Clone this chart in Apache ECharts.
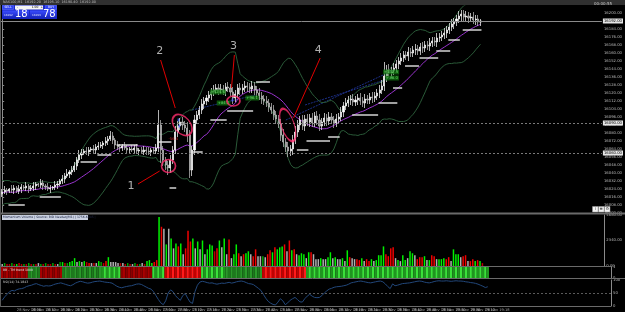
<!DOCTYPE html>
<html><head><meta charset="utf-8">
<script src="https://cdn.jsdelivr.net/npm/echarts/dist/echarts.min.js"></script>
<style>html,body{margin:0;padding:0;background:#000;}#c{width:625px;height:312px;}</style>
</head><body><div id="c"></div>
<script>
// ---------- DATA ----------
const priorCloses = [16012,16018,16025,16030,16022,16015,16010,16017,16024,16028,16021,16014,16019,16026,16023,16017,16020,16025,16019];
const firstOpen = 16019;
const closes = [
16021,16023,16022,16024,16023,16025,16022,16024,16026,16025,
16027,16024,16025,16027,16029,16028,16030,16027,16026,16024,
16025,16026,16028,16029,16032,16034,16037,16039,16041,16043,
16047,16053,16058,16060,16062,16061,16063,16064,16063,16066,
16067,16068,16070,16072,16074,16077,16073,16068,16066,16065,
16067,16065,16063,16064,16063,16065,16062,16063,16061,16063,
16062,16061,16063,16062,16065,16088,16063,16053,16048,16045,
16053,16063,16081,16087,16091,16088,16085,16078,16043,16063,
16093,16098,16103,16109,16112,16115,16118,16121,16123,16125,
16123,16124,16122,16126,16125,16121,16115,16119,16125,16123,
16125,16127,16126,16124,16127,16123,16120,16117,16114,16112,
16110,16106,16103,16098,16094,16089,16078,16071,16066,16062,
16064,16073,16081,16088,16093,16087,16094,16091,16095,16090,
16097,16093,16087,16091,16095,16092,16096,16093,16090,16094,
16096,16101,16107,16110,16113,16114,16111,16113,16115,16112,
16110,16114,16113,16116,16115,16117,16120,16123,16127,16137,
16143,16140,16142,16145,16149,16152,16155,16158,16157,16161,
16160,16163,16164,16162,16166,16165,16168,16167,16170,16172,
16171,16175,16176,16178,16180,16183,16186,16189,16191,16194,
16197,16199,16196,16197,16195,16196,16193,16194,16191,16192];
const wickUp = [
3,4,2,1,4,3,2,4,3,2, 4,2,3,4,2,1,4,3,2,4, 3,1,4,3,2,4,3,5,2,4, 4,3,5,4,2,4,3,2,4,3,
4,3,2,4,3,5,4,2,4,3, 2,4,3,2,4,3,4,2,3,4, 3,4,2,3,4,15,5,4,3,4, 5,4,6,5,4,5,4,6,5,4,
5,4,4,5,4,3,4,4,5,4, 4,5,4,4,5,4,5,4,4,5, 4,5,4,4,5,4,4,5,4,4, 5,4,4,5,4,4,5,6,4,5,
4,5,6,5,4,5,4,5,4,5, 4,5,6,4,5,4,5,4,4,5, 4,5,4,5,4,4,5,4,4,5, 4,5,4,4,5,4,4,5,6,14,
5,6,4,5,4,4,5,4,4,5, 4,4,5,4,4,5,4,4,5,4, 4,5,4,4,5,4,4,5,4,4, 5,4,4,5,4,4,5,4,4,2];
const wickDn = [
3,2,4,2,3,4,2,3,4,2, 3,4,2,3,4,2,3,4,3,2, 4,2,3,4,2,3,4,2,4,3, 2,4,3,4,2,3,4,2,3,4,
3,2,4,3,4,2,4,4,3,4, 3,2,4,3,2,4,3,4,2,3, 4,3,4,2,3,4,13,6,5,7, 5,4,4,5,4,5,4,7,8,6,
5,4,4,4,5,4,4,5,4,4, 5,4,4,5,4,4,6,4,4,5, 4,4,5,4,4,5,4,4,5,4, 4,5,4,5,5,4,6,5,5,6,
5,6,4,5,5,4,5,4,5,4, 4,5,5,4,4,5,4,4,5,4, 4,4,5,4,4,5,4,4,5,4, 4,5,4,4,5,4,4,5,4,5,
6,4,5,4,4,5,4,4,4,5, 4,4,5,4,4,5,4,4,5,4, 4,5,4,4,4,5,4,4,5,4, 4,5,4,4,5,4,4,5,4,4];
const volumes = [
2,3,2,2,3,2,2,3,2,2, 2,3,2,2,2,3,2,2,3,2, 2,3,2,2,4,4,3,3,4,5, 8,4,5,4,5,4,3,3,3,3,
5,4,3,5,9,4,4,4,3,3, 3,2,3,2,2,3,2,2,3,2, 5,6,3,4,6,50,40,38,22,38, 28,18,23,20,23,12,18,36,25,28,
18,25,17,26,12,17,22,21,15,18, 26,19,28,12,27,8,12,22,13,10, 12,13,15,12,10,17,10,10,10,9, 12,16,14,19,17,19,20,22,15,26,
16,17,12,11,13,12,8,14,14,12, 7,7,8,7,7,9,14,8,9,7, 7,8,5,16,9,8,7,7,6,8, 5,7,5,7,5,6,11,11,20,12,
10,18,19,8,6,5,11,6,8,15, 13,11,7,9,9,10,6,6,11,10, 7,7,7,8,7,9,5,17,12,12, 9,10,11,5,5,7,5,6,5,3];
const volClass = [
'n','g','r','r','g','r','G','r','r','g', 'r','g','r','g','r','n','g','r','g','r',
'r','g','r','n','g','G','r','g','G','G', 'G','n','G','n','G','r','R','n','r','n',
'G','g','r','R','G','n','n','n','n','r', 'n','r','g','r','n','g','r','g','n','r',
'G','G','G','R','R','G','R','n','G','n', 'G','n','G','R','G','n','R','R','R','G',
'n','G','n','G','n','G','G','G','r','R', 'G','n','G','n','R','n','G','G','R','n',
'R','G','G','n','R','R','n','n','g','n', 'R','R','G','R','G','G','G','R','n','R',
'G','R','n','G','G','G','n','G','R','n', 'n','n','G','n','n','G','G','n','G','n',
'n','G','n','G','R','n','n','R','R','G', 'n','R','R','G','n','G','G','G','G','R',
'R','R','R','n','G','n','G','G','n','G', 'G','n','R','R','R','G','n','G','R','R',
'n','G','G','G','R','R','n','G','G','G', 'n','R','R','n','R','R','G','R','G','r'];
const trendRuns = [[-1,11],[1,5],[-1,9],[1,16],[2,8],[-1,13],[2,5],[-2,15],[2,10],[1,15],[-2,18],[2,75]];
const oscValues = [
22,35,45,55,60,58,63,66,67,70, 75,78,80,84,86,82,79,76,78,77, 78,82,85,87,89,86,83,80,78,82, 88,92,95,93,90,88,89,92,94,95,
96,94,92,91,90,88,82,76,72,70, 73,75,77,78,81,84,85,83,78,73, 68,65,55,40,25,12,5,20,50,62, 55,40,30,22,40,48,30,15,10,55,
80,92,95,93,90,88,89,86,84,86, 88,87,89,91,88,90,93,95,96,94, 90,86,85,82,75,68,60,45,30,18, 11,6,4,15,28,20,5,12,22,28,
33,25,16,15,28,38,45,38,33,32, 33,40,50,58,65,68,72,74,75,76, 78,80,84,89,91,93,95,96,94,92, 90,89,91,93,95,96,93,85,75,67,
85,78,80,83,86,87,88,89,91,93, 95,96,95,92,90,89,91,94,96,97, 96,96,97,96,95,96,97,96,96,95, 93,92,90,89,87,84,80,76,71,74];
// support dashes: [fromBar, toBar, price]
const levels = [[3,9,16008],[16,24,16016],[33,39,16051],[40,45,16058],[48,56,16068],[65,70,16071],[70,72,16025],
[79,83,16061],[87,93,16093],[94,104,16102],[106,111,16131],[123,127,16063],[127,136,16072],[136,140,16076],
[146,156,16098],[157,164,16110],[163,166,16125],[168,173,16147],[174,181,16155],[181,186,16162],[186,190,16173],[192,199,16183]];
const channelLines = [[118,16093,163,16143],[126,16108,163,16136],[79,16103,105.6,16118]];
const horizLevels = [16090, 16060];
const tickLabels = ['28 Nov 2023','28 Nov 16:06','28 Nov 16:12','28 Nov 16:18','28 Nov 16:24','28 Nov 16:30','28 Nov 16:36','28 Nov 16:42',
'28 Nov 16:48','28 Nov 16:54','28 Nov 17:00','28 Nov 17:06','28 Nov 17:12','28 Nov 17:18','28 Nov 17:24','28 Nov 17:30','28 Nov 17:36',
'28 Nov 17:42','28 Nov 17:48','28 Nov 17:54','28 Nov 18:00','28 Nov 18:06','28 Nov 18:12','28 Nov 18:18','28 Nov 18:24','28 Nov 18:30',
'28 Nov 18:36','28 Nov 18:42','28 Nov 18:48','28 Nov 18:54','28 Nov 19:00','28 Nov 19:06','28 Nov 19:12','28 Nov 19:18'];
// annotations in data coordinates [bar, price]
const circles = [[69.2,16047],[74.9,16088],[96.2,16112],[118.8,16088]];
const arrows = [[56.5,16029,65.5,16042],[65.9,16153,72.0,16105],[96.6,16158,95.4,16125],[132.3,16155,121.2,16095]];
const numbers = [[53.6,16027,'1'],[65.5,16162,'2'],[96.2,16167,'3'],[131.5,16163,'4']];
const tradeLabels = [[89.7,16121,'+124.6',1],[92.1,16110,'+84.2',1],[104,16115,'+96.1',1],[161.8,16141,'+112.3',1],[162.2,16135,'+88.0',1],[71.2,16074,'-56.4',-1]];
const blueMarks = [[73.3,16093],[73.7,16087],[95.8,16113]];

// ---------- BUILD ----------
const SLOTS = 250, N = closes.length;
const cats = []; for (let i = 0; i < SLOTS; i++) cats.push(String(i));
const candles = closes.map((c, i) => { const o = i ? closes[i-1] : firstOpen; return [o, c, Math.min(o,c) - wickDn[i], Math.max(o,c) + wickUp[i]]; });
const all = priorCloses.concat(closes), P = priorCloses.length;
const BB_K = 2.4;
const ma = [], up = [], lo = [];
for (let i = 0; i < N; i++) {
  const w = all.slice(i + P - 19, i + P + 1);
  const m = w.reduce((a,b)=>a+b,0) / w.length;
  const sd = Math.sqrt(w.reduce((a,b)=>a+(b-m)*(b-m),0) / w.length);
  ma.push(+m.toFixed(2)); up.push(+(m+BB_K*sd).toFixed(2)); lo.push(+(m-BB_K*sd).toFixed(2));
}
const volColors = {G:'#00f000', g:'#00a000', R:'#f00000', r:'#b80000', n:'#b0b0b0'};
const trend = []; trendRuns.forEach(([s,n]) => { for (let k = 0; k < n; k++) trend.push(s); });
const stripColor = (s, i) => {
  const even = i % 2 === 0;
  if (s === 2) return even ? '#3ae03a' : '#1f961f';
  if (s === 1) return even ? '#2a9a2a' : '#1d7a1d';
  if (s === -1) return even ? '#a80000' : '#8c0000';
  return even ? '#ff1a1a' : '#c20000';
};
const FONT = 'DejaVu Sans';
const hiddenCat = (g) => ({type:'category', gridIndex:g, data:cats, boundaryGap:true, axisLine:{show:false}, axisTick:{show:false}, axisLabel:{show:false}, splitLine:{show:false}});

const option = {
  backgroundColor:'#000', animation:false,
  grid:[
    {left:1, right:14, top:6, height:207},
    {left:1, right:14, top:215, height:51},
    {left:1, right:14, top:267, height:11},
    {left:1, right:14, top:280, height:26}
  ],
  xAxis:[
    hiddenCat(0), hiddenCat(1), hiddenCat(2),
    {type:'category', gridIndex:3, data:cats, boundaryGap:true, axisLine:{show:false}, axisTick:{show:false}, splitLine:{show:false},
     axisLabel:{show:true, interval:5, margin:2, fontSize:3.6, color:'#a8a8a8', fontFamily:FONT, align:'left',
       formatter:(v, idx) => (idx % 6 === 0 && idx/6 < tickLabels.length) ? tickLabels[idx/6] : ''}},
    {type:'value', gridIndex:0, min:-0.5, max:SLOTS-0.5, show:false}
  ],
  yAxis:[
    {type:'value', gridIndex:0, position:'right', min:16000, max:16207, interval:8, splitLine:{show:false},
     axisLine:{show:true, lineStyle:{color:'#8a8a8a'}}, axisTick:{show:true, length:2, lineStyle:{color:'#8a8a8a'}},
     axisLabel:{fontSize:3.8, color:'#b8b8b8', margin:2, fontFamily:FONT, showMaxLabel:false, formatter:v=>v.toFixed(2)}},
    {type:'value', gridIndex:1, position:'right', min:0, max:52, interval:26, splitLine:{show:false},
     axisLine:{show:true, lineStyle:{color:'#8a8a8a'}}, axisTick:{show:false},
     axisLabel:{fontSize:3.8, color:'#b8b8b8', margin:2, fontFamily:FONT, formatter:v=>(v*90).toFixed(2)}},
    {type:'value', gridIndex:2, position:'right', min:0, max:1, interval:1, splitLine:{show:false},
     axisLine:{show:true, lineStyle:{color:'#8a8a8a'}}, axisTick:{show:false},
     axisLabel:{fontSize:3.8, color:'#b8b8b8', margin:2, fontFamily:FONT}},
    {type:'value', gridIndex:3, position:'right', min:0, max:100, interval:50, splitLine:{show:false},
     axisLine:{show:true, lineStyle:{color:'#8a8a8a'}}, axisTick:{show:false},
     axisLabel:{fontSize:3.8, color:'#b8b8b8', margin:2, fontFamily:FONT}}
  ],
  series:[
    {type:'line', name:'BB upper', xAxisIndex:0, yAxisIndex:0, data:up, symbol:'none', lineStyle:{color:'#2a5a38', width:1}, z:2},
    {type:'line', name:'BB lower', xAxisIndex:0, yAxisIndex:0, data:lo, symbol:'none', lineStyle:{color:'#2a5a38', width:1}, z:2},
    {type:'custom', name:'channel', xAxisIndex:4, yAxisIndex:0, data:channelLines, z:2,
     renderItem:(p, api) => { const a = api.coord([api.value(0), api.value(1)]), b = api.coord([api.value(2), api.value(3)]);
       return {type:'line', shape:{x1:a[0], y1:a[1], x2:b[0], y2:b[1]}, style:{stroke:'#1c2f86', lineWidth:1, lineDash:[2,1]}}; }},
    {type:'line', name:'MA', xAxisIndex:0, yAxisIndex:0, data:ma, symbol:'none', lineStyle:{color:'#9a34cf', width:1}, z:3},
    {type:'candlestick', name:'price', xAxisIndex:0, yAxisIndex:0, data:candles, barWidth:'66%', z:4,
     itemStyle:{color:'#ffffff', color0:'#909090', borderColor:'#ffffff', borderColor0:'#c4c4c4', borderWidth:0.7},
     markLine:{silent:true, symbol:'none', animation:false,
       data:[
         {yAxis:closes[N-1], lineStyle:{type:'solid', color:'#8a8a8a', width:1}},
         ...horizLevels.map(v => ({yAxis:v, lineStyle:{type:[2,2], color:'#7a7a7a', width:1}}))
       ],
       label:{show:true, position:'end', distance:1, fontSize:3.8, color:'#000', backgroundColor:'#e6e6e6', padding:[0.5,1], fontFamily:FONT, formatter:p=>(+p.value).toFixed(2)}}},
    {type:'custom', name:'levels', xAxisIndex:4, yAxisIndex:0, data:levels, z:5,
     renderItem:(p, api) => { const a = api.coord([api.value(0)-0.4, api.value(2)]), b = api.coord([api.value(1)+0.4, api.value(2)]);
       return {type:'line', shape:{x1:a[0], y1:a[1], x2:b[0], y2:b[1]}, style:{stroke:'#e4e4e4', lineWidth:1.4}}; }},
    {type:'scatter', name:'trades', xAxisIndex:4, yAxisIndex:0, symbolSize:0, z:6,
     data:tradeLabels.map(t => ({value:t, label:{color: t[3] > 0 ? '#7dff7d' : '#ff3030', backgroundColor: t[3] > 0 ? '#0f6a0f' : 'rgba(0,0,0,0)'}})),
     label:{show:true, position:'inside', fontSize:3.8, fontFamily:FONT, padding:[0.5,1], formatter:p=>p.data.value[2]},
     itemStyle:{color:'transparent'}},
    {type:'scatter', name:'blue', xAxisIndex:4, yAxisIndex:0, data:blueMarks, symbol:'rect', symbolSize:[1.6,3], itemStyle:{color:'#4a64ff'}, z:6},
    {type:'scatter', name:'circles', xAxisIndex:4, yAxisIndex:0, z:8,
     data:[
       {value:circles[0], symbolSize:[14,13], symbolRotate:0},
       {value:circles[1], symbolSize:[16,24], symbolRotate:40},
       {value:circles[2], symbolSize:[13,10], symbolRotate:0},
       {value:circles[3], symbolSize:[13,34], symbolRotate:18}
     ],
     symbol:'circle', itemStyle:{color:'rgba(0,0,0,0)', borderColor:'#ff2d6e', borderWidth:1.6},
     markLine:{silent:true, animation:false, symbol:['none','arrow'], symbolSize:[0,5],
       lineStyle:{color:'#e00000', width:1, type:'solid'}, label:{show:false},
       data:arrows.map(a => [{coord:[a[0],a[1]]},{coord:[a[2],a[3]]}])}},
    {type:'scatter', name:'numbers', xAxisIndex:4, yAxisIndex:0, data:numbers, symbolSize:0, z:9,
     label:{show:true, position:'inside', formatter:p=>p.data[2], color:'#dcdcdc', fontSize:11, fontFamily:FONT}},
    {type:'bar', name:'volume', xAxisIndex:1, yAxisIndex:1, barWidth:1.5,
     data:volumes.map((v,i)=>({value:v, itemStyle:{color:volColors[volClass[i]]}}))},
    {type:'bar', name:'trend', xAxisIndex:2, yAxisIndex:2, barWidth:'100%', barCategoryGap:'0%',
     data:trend.map((s,i)=>({value:1, itemStyle:{color:stripColor(s,i)}}))},
    {type:'line', name:'osc', xAxisIndex:3, yAxisIndex:3, data:oscValues, symbol:'none', lineStyle:{color:'#22477a', width:1},
     markLine:{silent:true, symbol:'none', label:{show:false}, data:[{yAxis:50}], lineStyle:{color:'#5a5a5a', type:[2,2], width:1}}}
  ],
  graphic:[
    {type:'rect', z:100, shape:{x:0,y:0,width:625,height:5}, style:{fill:'#303030'}},
    {type:'text', z:101, x:3, y:0.6, style:{text:'NAS100,M1  16192.20  16195.10  16190.40  16192.00', fill:'#bdbdbd', fontSize:3.4, fontFamily:FONT}},
    {type:'rect', z:100, shape:{x:2,y:5,width:55,height:14}, style:{fill:'#1a28c8'}},
    {type:'rect', z:101, shape:{x:2.5,y:5.5,width:11,height:4}, style:{fill:'#2f42f2', stroke:'#7c88ff', lineWidth:0.4}},
    {type:'text', z:102, x:8, y:7.6, style:{text:'SELL', fill:'#fff', fontSize:3, align:'center', verticalAlign:'middle', fontFamily:FONT}},
    {type:'rect', z:101, shape:{x:15,y:5.5,width:28,height:4}, style:{fill:'#f4f4f4'}},
    {type:'text', z:102, x:17, y:7.6, style:{text:'-', fill:'#000', fontSize:3, verticalAlign:'middle', fontFamily:FONT}},
    {type:'text', z:102, x:35, y:7.6, style:{text:'1.00', fill:'#000', fontSize:3, align:'center', verticalAlign:'middle', fontFamily:FONT}},
    {type:'text', z:102, x:40.5, y:7.6, style:{text:'+', fill:'#000', fontSize:3, verticalAlign:'middle', fontFamily:FONT}},
    {type:'rect', z:101, shape:{x:45.5,y:5.5,width:11,height:4}, style:{fill:'#2f42f2', stroke:'#7c88ff', lineWidth:0.4}},
    {type:'text', z:102, x:51, y:7.6, style:{text:'BUY', fill:'#fff', fontSize:3, align:'center', verticalAlign:'middle', fontFamily:FONT}},
    {type:'rect', z:101, shape:{x:2.5,y:10.5,width:26.5,height:8}, style:{fill:new echarts.graphic.LinearGradient(0,0,0,1,[{offset:0,color:'#3a4cff'},{offset:1,color:'#1422b8'}])}},
    {type:'rect', z:101, shape:{x:30,y:10.5,width:26.5,height:8}, style:{fill:new echarts.graphic.LinearGradient(0,0,0,1,[{offset:0,color:'#3a4cff'},{offset:1,color:'#1422b8'}])}},
    {type:'text', z:102, x:4, y:15.5, style:{text:'16192', fill:'#dfe3ff', fontSize:2.8, verticalAlign:'middle', fontFamily:FONT}},
    {type:'text', z:102, x:15, y:14.8, style:{text:'18', fill:'#fff', fontSize:10, verticalAlign:'middle', fontFamily:FONT}},
    {type:'text', z:102, x:32, y:15.5, style:{text:'16193', fill:'#dfe3ff', fontSize:2.8, verticalAlign:'middle', fontFamily:FONT}},
    {type:'text', z:102, x:43, y:14.8, style:{text:'78', fill:'#fff', fontSize:10, verticalAlign:'middle', fontFamily:FONT}},
    {type:'text', z:101, x:594, y:2.2, style:{text:'00:00:55', fill:'#c8c8c8', fontSize:4, fontFamily:FONT}},
    {type:'line', z:90, shape:{x1:0,y1:213.5,x2:625,y2:213.5}, style:{stroke:'#6a6a6a', lineWidth:2}},
    {type:'line', z:90, shape:{x1:0,y1:266.5,x2:611,y2:266.5}, style:{stroke:'#6a6a6a', lineWidth:1}},
    {type:'line', z:90, shape:{x1:0,y1:278.5,x2:625,y2:278.5}, style:{stroke:'#6a6a6a', lineWidth:1}},
    {type:'line', z:90, shape:{x1:0,y1:306.5,x2:611,y2:306.5}, style:{stroke:'#6a6a6a', lineWidth:1}},
    {type:'line', z:90, shape:{x1:0.5,y1:5,x2:0.5,y2:307}, style:{stroke:'#5a5a5a', lineWidth:1}},
    {type:'rect', z:100, shape:{x:2,y:215,width:86,height:5}, style:{fill:'#c9d0e0'}},
    {type:'text', z:101, x:3, y:217.6, style:{text:'Momentum Volume | Source: BID Nasdaq(M1) | 1756.6845 |', fill:'#202848', fontSize:3.1, verticalAlign:'middle', fontFamily:FONT}},
    {type:'text', z:101, x:3, y:268.2, style:{text:'BB - TM trend 1000', fill:'#e0e0e0', fontSize:3.1, fontFamily:FONT}},
    {type:'text', z:101, x:3, y:280.3, style:{text:'RSI(14) 74.1843', fill:'#d0d0d0', fontSize:3.1, fontFamily:FONT}},
    {type:'rect', z:100, shape:{x:592.5,y:206.5,width:5.5,height:5.5}, style:{fill:'#f4f4f4', stroke:'#9a9a9a', lineWidth:0.5}},
    {type:'rect', z:100, shape:{x:598.5,y:206.5,width:5.5,height:5.5}, style:{fill:'#f4f4f4', stroke:'#9a9a9a', lineWidth:0.5}},
    {type:'rect', z:100, shape:{x:604.5,y:206.5,width:5.5,height:5.5}, style:{fill:'#f4f4f4', stroke:'#9a9a9a', lineWidth:0.5}},
    {type:'text', z:101, x:595.2, y:209.3, style:{text:'i', fill:'#333', fontSize:4, align:'center', verticalAlign:'middle', fontFamily:FONT}},
    {type:'text', z:101, x:601.2, y:209.3, style:{text:'≡', fill:'#333', fontSize:4, align:'center', verticalAlign:'middle', fontFamily:FONT}},
    {type:'text', z:101, x:607.2, y:209.3, style:{text:'⚙', fill:'#333', fontSize:4, align:'center', verticalAlign:'middle', fontFamily:FONT}}
  ]
};
const chart = echarts.init(document.getElementById('c'), null, {renderer:'canvas'});
chart.setOption(option);
</script></body></html>
